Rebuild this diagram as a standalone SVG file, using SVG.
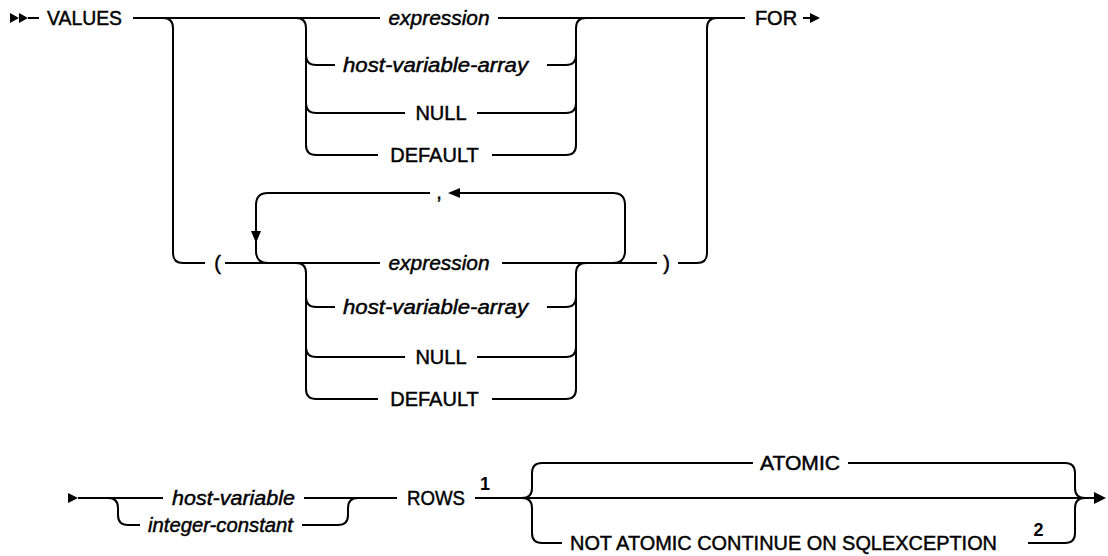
<svg xmlns="http://www.w3.org/2000/svg" width="1108" height="556" viewBox="0 0 1108 556">
<style>
.t{font-family:"Liberation Sans",Arial,sans-serif;font-size:20px;fill:#000;stroke:#000;stroke-width:0.45;text-anchor:middle}
.i{font-style:italic}
.s{font-size:18px;font-weight:bold;stroke-width:0}
.l{fill:none;stroke:#000;stroke-width:2}
.a{fill:#000;stroke:none}
</style>
<rect width="1108" height="556" fill="#fff"/>
<g id="connectors">
<polygon class="a" points="10,13 19,18 10,23"/>
<polygon class="a" points="19,13 28,18 19,23"/>
<path class="l" d="M28,18 H39"/>
<path class="l" d="M133,18 H380 M498,18 H745"/>
<path class="l" d="M163,18 Q173,18 173,28 V253 Q173,263 183,263 H205"/>
<path class="l" d="M296,18 Q306,18 306,28 V145 Q306,155 316,155 H378 M306,55 Q306,65 316,65 H335 M306,103 Q306,113 316,113 H405"/>
<path class="l" d="M547,65 H566 Q576,65 576,55 M477,113 H566 Q576,113 576,103 M492,155 H566 Q576,155 576,145 V28 Q576,18 586,18"/>
<path class="l" d="M678,263 H697 Q707,263 707,253 V28 Q707,18 717,18"/>
<path class="l" d="M803,18 H811"/>
<polygon class="a" points="810,13 820,18 810,23"/>
<path class="l" d="M225,263 H380 M502,263 H657"/>
<path class="l" d="M268,263 Q256,263 256,251 V205 Q256,193 268,193 H430"/>
<polygon class="a" points="251,231 261,231 256,243"/>
<path class="l" d="M458,193 H613 Q625,193 625,205 V251 Q625,263 613,263"/>
<polygon class="a" points="460,188 460,198 448,193"/>
<path class="l" d="M296,263 Q306,263 306,273 V389 Q306,399 316,399 H378 M306,297 Q306,307 316,307 H335 M306,347 Q306,357 316,357 H405"/>
<path class="l" d="M547,307 H566 Q576,307 576,297 M477,357 H566 Q576,357 576,347 M492,399 H566 Q576,399 576,389 V273 Q576,263 586,263"/>
<polygon class="a" points="68,493 78,498 68,503"/>
<path class="l" d="M78,498 H163 M108,498 Q118,498 118,508 V515 Q118,525 128,525 H140"/>
<path class="l" d="M304,498 H397 M302,525 H338 Q348,525 348,515 V508 Q348,498 358,498"/>
<path class="l" d="M475,498 H1095"/>
<path class="l" d="M522,498 Q532,498 532,488 V473 Q532,463 542,463 H753 M522,498 Q532,498 532,508 V533 Q532,543 542,543 H562"/>
<path class="l" d="M848,463 H1065 Q1075,463 1075,473 V488 Q1075,498 1085,498 M1028,543 H1065 Q1075,543 1075,533 V508 Q1075,498 1085,498"/>
<polygon class="a" points="1094,492 1106,498 1094,504"/>
</g>
<g id="n-values"><text class="t" x="84.5" y="25" textLength="75" lengthAdjust="spacingAndGlyphs">VALUES</text></g>
<g id="n-expr1"><text class="t i" x="439" y="25" textLength="101" lengthAdjust="spacingAndGlyphs">expression</text></g>
<g id="n-hva1"><text class="t i" x="435.5" y="72" textLength="185" lengthAdjust="spacingAndGlyphs">host-variable-array</text></g>
<g id="n-null1"><text class="t" x="441" y="120">NULL</text></g>
<g id="n-default1"><text class="t" x="434.5" y="162">DEFAULT</text></g>
<g id="n-for"><text class="t" x="776" y="25">FOR</text></g>
<g id="n-lparen"><text class="t" x="217.5" y="270">(</text></g>
<g id="n-comma"><text class="t" x="439" y="199">,</text></g>
<g id="n-expr2"><text class="t i" x="439" y="270" textLength="101" lengthAdjust="spacingAndGlyphs">expression</text></g>
<g id="n-hva2"><text class="t i" x="435.5" y="314" textLength="185" lengthAdjust="spacingAndGlyphs">host-variable-array</text></g>
<g id="n-null2"><text class="t" x="441" y="364">NULL</text></g>
<g id="n-default2"><text class="t" x="434.5" y="406">DEFAULT</text></g>
<g id="n-rparen"><text class="t" x="666.5" y="270">)</text></g>
<g id="n-hostvar"><text class="t i" x="233.5" y="505" textLength="123" lengthAdjust="spacingAndGlyphs">host-variable</text></g>
<g id="n-intconst"><text class="t i" x="220.5" y="532" textLength="145" lengthAdjust="spacingAndGlyphs">integer-constant</text></g>
<g id="n-rows"><text class="t" x="436" y="505" textLength="58" lengthAdjust="spacingAndGlyphs">ROWS</text></g>
<g id="n-note1"><text class="t s" x="485" y="490">1</text></g>
<g id="n-atomic"><text class="t" x="800" y="470" textLength="80" lengthAdjust="spacingAndGlyphs">ATOMIC</text></g>
<g id="n-notatomic"><text class="t" x="783.5" y="550" textLength="427" lengthAdjust="spacingAndGlyphs">NOT ATOMIC CONTINUE ON SQLEXCEPTION</text></g>
<g id="n-note2"><text class="t s" x="1038.5" y="536">2</text></g>
</svg>
